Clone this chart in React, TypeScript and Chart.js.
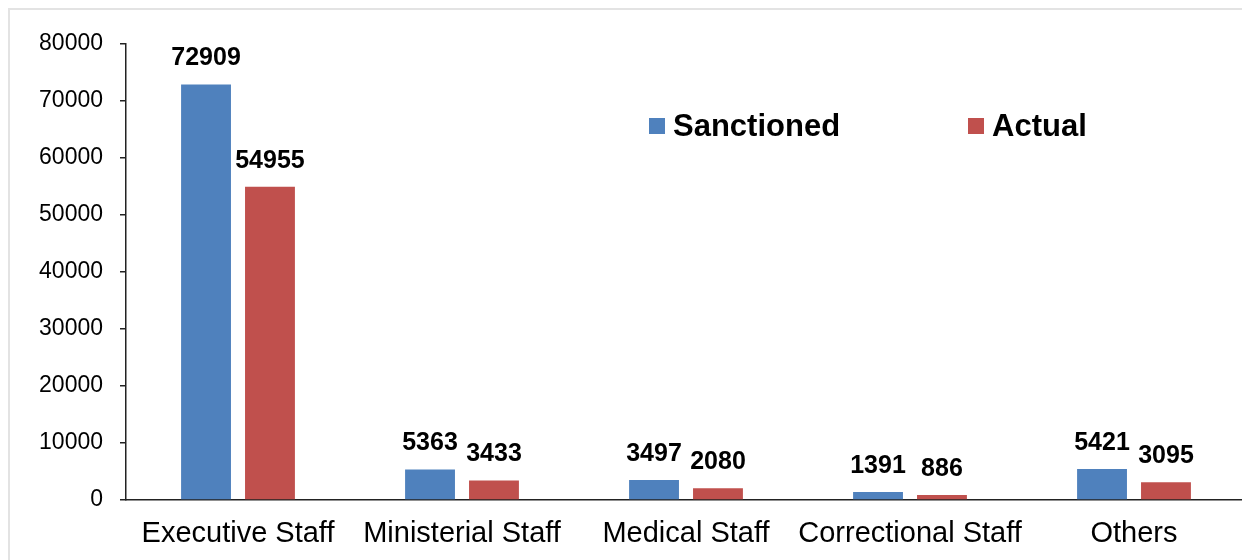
import React, { useEffect, useRef } from "react";
import { Chart, registerables } from "chart.js";

Chart.register(...registerables);

const categories = ["Executive Staff", "Ministerial Staff", "Medical Staff", "Correctional Staff", "Others"];
const sanctioned = [72909, 5363, 3497, 1391, 5421];
const actual = [54955, 3433, 2080, 886, 3095];
const seriesNames = ["Sanctioned", "Actual"];
const seriesColors = ["#4F81BD", "#C0504D"];
const yMin = 0;
const yMax = 80000;
const yStep = 10000;

const FONT = "'Liberation Sans', Arial, Helvetica, sans-serif";

// Bold value printed above each bar
const valueLabels = {
  id: "valueLabels",
  afterDatasetsDraw(chart: any) {
    const ctx = chart.ctx;
    ctx.save();
    ctx.font = `bold 25px ${FONT}`;
    ctx.fillStyle = "#000";
    ctx.textAlign = "center";
    ctx.textBaseline = "alphabetic";
    chart.data.datasets.forEach((ds: any, i: number) => {
      const meta = chart.getDatasetMeta(i);
      meta.data.forEach((bar: any, j: number) => {
        ctx.fillText(String(ds.data[j]), bar.x, bar.y - 19);
      });
    });
    ctx.restore();
  },
};

// Legend drawn inside the plot area, top right
const insideLegend = {
  id: "insideLegend",
  afterDraw(chart: any) {
    const ctx = chart.ctx;
    const area = chart.chartArea;
    ctx.save();
    ctx.font = `bold 31px ${FONT}`;
    ctx.textBaseline = "alphabetic";
    ctx.textAlign = "left";
    const starts = [area.left + 523, area.left + 842];
    const baseline = area.top + 92;
    chart.data.datasets.forEach((ds: any, i: number) => {
      const x = starts[i];
      ctx.fillStyle = ds.backgroundColor;
      ctx.fillRect(x, baseline - 18, 16, 16);
      ctx.fillStyle = "#000";
      ctx.fillText(ds.label, x + 24, baseline);
    });
    ctx.restore();
  },
};

export default function App() {
  const canvasRef = useRef<HTMLCanvasElement | null>(null);

  useEffect(() => {
    document.documentElement.style.overflow = "hidden";
    document.body.style.overflow = "hidden";
    const canvas = canvasRef.current;
    if (!canvas) return;
    const chart = new Chart(canvas, {
      type: "bar",
      data: {
        labels: categories,
        datasets: [
          { label: seriesNames[0], data: sanctioned, backgroundColor: seriesColors[0] },
          { label: seriesNames[1], data: actual, backgroundColor: seriesColors[1] },
        ],
      },
      options: {
        responsive: false,
        animation: false,
        devicePixelRatio: 1,
        categoryPercentage: 0.571,
        barPercentage: 0.78,
        layout: { padding: { top: 34, right: 4, left: 0, bottom: 0 } },
        plugins: {
          legend: { display: false },
          tooltip: { enabled: false },
        },
        scales: {
          x: {
            grid: { display: false },
            border: { display: true, color: "#222", width: 1.5 },
            ticks: {
              color: "#000",
              font: { family: FONT, size: 29 },
              padding: 9,
              maxRotation: 0,
              autoSkip: false,
            },
            afterFit: (s: any) => {
              s.height = 60;
            },
          },
          y: {
            min: yMin,
            max: yMax,
            border: { display: true, color: "#222", width: 1.5 },
            grid: { drawOnChartArea: false, tickLength: 6, color: "#222", lineWidth: 1.5 },
            ticks: {
              stepSize: yStep,
              color: "#000",
              font: { family: FONT, size: 23 },
              padding: 17,
              callback: (v: any) => String(v),
            },
            afterFit: (s: any) => {
              s.width = 116;
            },
          },
        },
      } as any,
      plugins: [valueLabels, insideLegend],
    });
    return () => chart.destroy();
  }, []);

  return (
    <div
      style={{
        width: 1242,
        height: 552,
        boxSizing: "border-box",
        borderTop: "2px solid #e3e3e3",
        borderLeft: "2px solid #e3e3e3",
        background: "#fff",
      }}
    >
      <canvas ref={canvasRef} width={1240} height={550} style={{ display: "block" }} />
    </div>
  );
}
